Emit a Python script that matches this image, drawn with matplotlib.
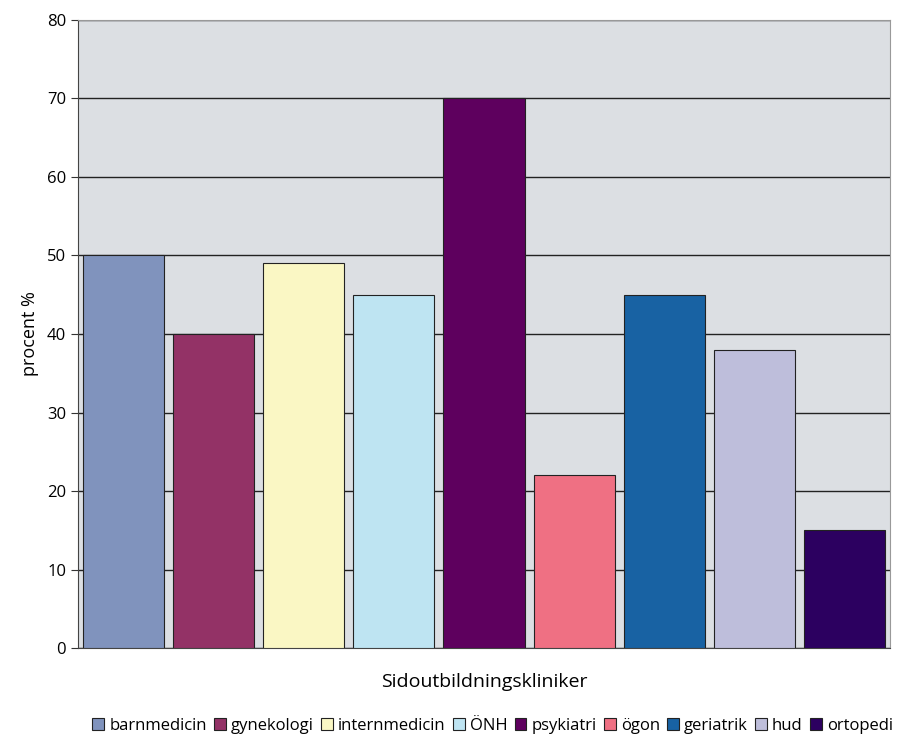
import numpy as np
import matplotlib.pyplot as plt
from matplotlib.patches import Patch

# share of respondents per side-training clinic
clinics = ['barnmedicin', 'gynekologi', 'internmedicin', 'ÖNH', 'psykiatri',
           'ögon', 'geriatrik', 'hud', 'ortopedi']
percent = [50, 40, 49, 45, 70, 22, 45, 38, 15]
colors = ['#8093BD', '#933266', '#FAF7C4', '#BEE4F2', '#5E005E',
          '#EF7083', '#1862A3', '#BEBEDB', '#2C0060']

plt.rcParams['font.family'] = ['Open Sans', 'DejaVu Sans']

fig = plt.figure(figsize=(8.99, 7.4), dpi=100)
ax = fig.add_axes([0.0868, 0.1243, 0.9032, 0.8487])
ax.set_facecolor('#DCDFE3')

x = np.arange(len(clinics))
ax.bar(x, percent, width=0.9, color=colors, edgecolor='#222222', linewidth=0.8, zorder=3)

ax.set_xlim(-0.5, len(clinics) - 0.5)
ax.set_ylim(0, 80)
ax.set_yticks(range(0, 81, 10))
ax.set_xticks([])
ax.yaxis.grid(True, color='#222222', linewidth=1.0, zorder=1)
ax.tick_params(axis='y', labelsize=12, length=5, color='#333333')

for side in ['top', 'right']:
    ax.spines[side].set_color('#999999')
ax.spines['left'].set_color('#444444')
ax.spines['bottom'].set_color('#444444')

ax.set_ylabel('procent %', fontsize=13, labelpad=6)
ax.set_xlabel('Sidoutbildningskliniker', fontsize=14, labelpad=18)

handles = [Patch(facecolor=c, edgecolor='#222222', linewidth=0.8) for c in colors]
fig.legend(handles, clinics, loc='lower center', bbox_to_anchor=(0.548, -0.012),
           ncol=len(clinics), frameon=False, fontsize=12, handlelength=0.7,
           handleheight=0.7, handletextpad=0.3, columnspacing=0.45)

fig.savefig('out.png', dpi=100)
